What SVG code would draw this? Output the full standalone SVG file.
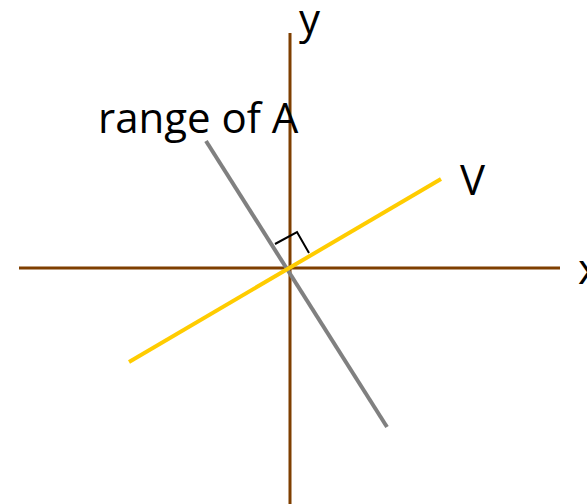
<svg xmlns="http://www.w3.org/2000/svg" width="587" height="504" viewBox="0 0 587 504">
<style>
.axis{stroke:#7f3f00;stroke-width:3;fill:none}
.lbl{font-family:"Open Sans","Noto Sans",sans-serif;font-size:42px;fill:#000}
</style>
<rect width="587" height="504" fill="#fff"/>
<g id="connectors">
<line id="x-axis" class="axis" x1="19" y1="268" x2="560" y2="268"/>
<line id="y-axis" class="axis" x1="290" y1="33" x2="290" y2="504"/>
<line id="rangeA" x1="206" y1="141" x2="387" y2="427" stroke="#808080" stroke-width="4"/>
<line id="V" x1="129" y1="362" x2="441" y2="179" stroke="#ffcc00" stroke-width="4"/>
<polyline id="right-angle" points="275,244 297,232 309,253" fill="none" stroke="#000" stroke-width="2"/>
</g>
<g id="labels">
<text class="lbl" x="299" y="34">y</text>
<text class="lbl" x="578" y="284">x</text>
<text class="lbl" x="460" y="195">V</text>
<text class="lbl" x="98" y="133">range of A</text>
</g>
</svg>
